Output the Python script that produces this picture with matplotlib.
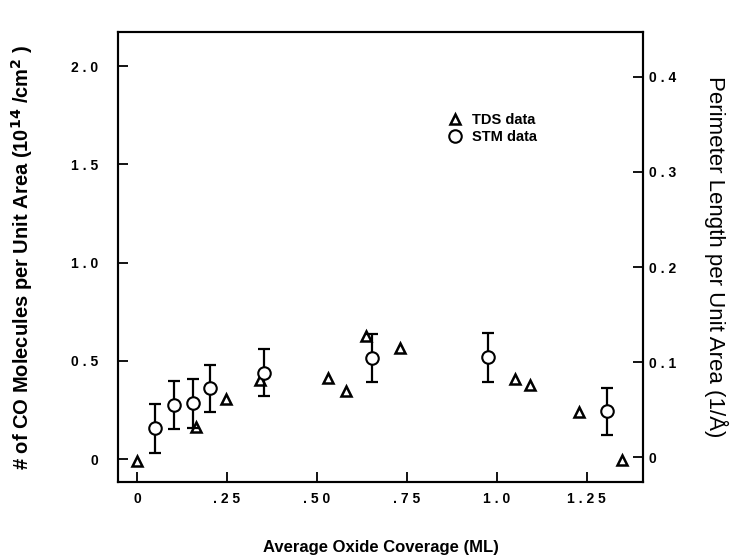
import matplotlib
matplotlib.use('Agg')
import matplotlib.pyplot as plt

plt.rcParams['font.family'] = ['Liberation Sans', 'DejaVu Sans']

# TDS data (left axis)
tds_x = [0.0, 0.163, 0.246, 0.342, 0.531, 0.58, 0.636, 0.732, 1.05, 1.092, 1.228, 1.349]
tds_y = [-0.01, 0.164, 0.307, 0.402, 0.41, 0.346, 0.626, 0.566, 0.407, 0.377, 0.238, -0.005]

# STM data with error bars
stm_x = [0.05, 0.103, 0.155, 0.203, 0.353, 0.654, 0.976, 1.307]
stm_y = [0.156, 0.275, 0.283, 0.36, 0.439, 0.512, 0.517, 0.244]
stm_err = [0.125, 0.12, 0.125, 0.12, 0.12, 0.122, 0.123, 0.12]

x_ticks = [0, 0.25, 0.5, 0.75, 1.0, 1.25]
x_labels = ['0', '. 2 5', '. 5 0', '. 7 5', '1 . 0', '1 . 2 5']
y_ticks = [0, 0.5, 1.0, 1.5, 2.0]
y_labels = ['0', '0 . 5', '1 . 0', '1 . 5', '2 . 0']
r_ticks = [0, 0.1, 0.2, 0.3, 0.4]
r_labels = ['0', '0 . 1', '0 . 2', '0 . 3', '0 . 4']

fig = plt.figure(figsize=(7.44, 5.59), dpi=100)
ax = fig.add_axes([0.1586, 0.1377, 0.7056, 0.805])

ax.plot(tds_x, tds_y, linestyle='none', marker='^', markersize=7,
        markerfacecolor='white', markeredgecolor='black', markeredgewidth=1.8,
        label='TDS data')
ax.errorbar(stm_x, stm_y, yerr=stm_err, fmt='none',
            ecolor='black', elinewidth=1.6, capsize=4, capthick=1.6, zorder=2)
ax.plot(stm_x, stm_y, linestyle='none', marker='o', markersize=9,
        markerfacecolor='white', markeredgecolor='black', markeredgewidth=1.5,
        label='STM data', zorder=3)

ax.set_xlim(-0.053, 1.406)
ax.set_ylim(-0.117, 2.173)
ax.set_xticks(x_ticks)
ax.set_xticklabels(x_labels, fontsize=10, fontweight='bold')
ax.set_yticks(y_ticks)
ax.set_yticklabels(y_labels, fontsize=10, fontweight='bold')
ax.tick_params(direction='in', length=7, width=1.3, pad=14)
ax.tick_params(axis='x', pad=7)

for s in ax.spines.values():
    s.set_linewidth(1.5)

ax2 = ax.twinx()
ax2.set_ylim(-0.026, 0.447)
ax2.set_yticks(r_ticks)
ax2.set_yticklabels(r_labels, fontsize=10, fontweight='bold')
ax2.tick_params(direction='in', length=7, width=1.3, pad=4)
for s in ax2.spines.values():
    s.set_linewidth(1.5)

ax.set_xlabel('Average Oxide Coverage (ML)', fontsize=12, fontweight='bold', labelpad=25)
ax.set_ylabel('# of CO Molecules per Unit Area (10$^{\\mathbf{14}}$ /cm$^{\\mathbf{2}}$ )',
              fontsize=14.5, fontweight='bold', labelpad=26)
ax2.set_ylabel('Perimeter Length per Unit Area (1/Å)', fontsize=16,
               rotation=-90, labelpad=38)

leg = ax.legend(loc='upper left', bbox_to_anchor=(0.6, 0.85), frameon=False,
                prop={'weight': 'bold', 'size': 10.5}, handletextpad=0.6,
                labelspacing=0.25, handlelength=1.2)

fig.savefig('out.png', dpi=100)
